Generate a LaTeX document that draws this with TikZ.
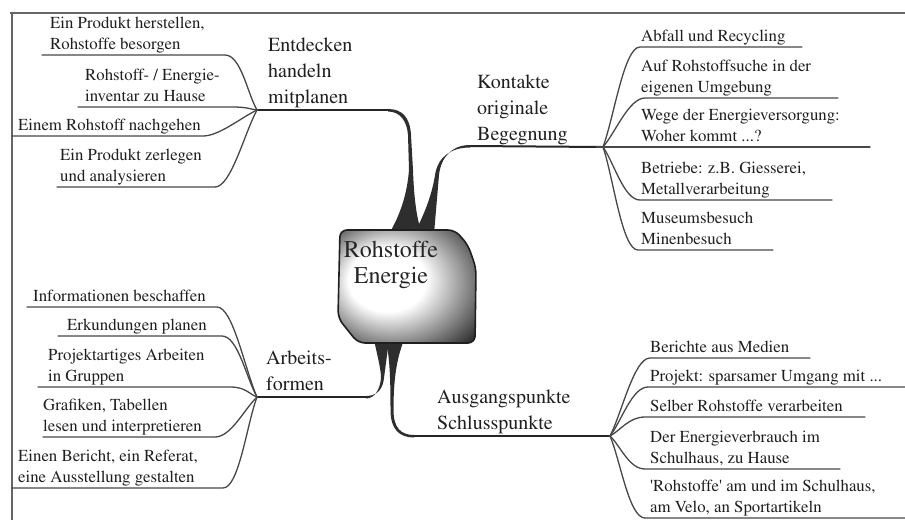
\documentclass[tikz,border=0pt]{standalone}
\usepackage[T1]{fontenc}
\usepackage{mathptmx}
\usetikzlibrary{calc}

\pgfdeclareradialshading{blobglow}{\pgfpoint{-10bp}{4bp}}{color(0bp)=(white); color(14bp)=(white); color(37bp)=(black!85); color(50bp)=(black!88)}

\newcommand\subfont{\fontsize{16.8}{21.5}\selectfont}
\newcommand\topicfont{\fontsize{20}{26}\selectfont}
\newcommand\centerfont{\fontsize{24}{26}\selectfont}

\begin{document}
\begin{tikzpicture}[x=1pt, y=-1pt]

\tikzset{%
subline/.style={line width=1.3pt, black!72, line cap=round},
stemline/.style={line width=2pt, black!85},
stemfill/.style={fill=black!82},
frameline/.style={line width=1.3pt, black!60},
itemtext/.style={font=\subfont, black!88, align=left, inner sep=0, anchor=south west},
topictext/.style={font=\topicfont, black!88, align=left, inner sep=0, anchor=south west}%
}

\useasboundingbox (0,0) rectangle (905,520) ;

% arguments: name, junction, x of text, y of underline, x left end, x of bend, text
\newcommand{\leftitem}[7]{%
\path (#5, #4) node [shape=coordinate] (#1start) {} ;
\path (#6, #4) node [shape=coordinate] (#1bend) {} ;
\node [itemtext] (#1text) at (#3, #4+1.5) {#7\strut} ;
\draw [subline] (#1start) -- (#1bend) .. controls +(16,0) and ($(#2)!0.3!(#1bend)$) .. (#2) ;
}

% arguments: name, junction, x of text, y of underline, x of bend, x right end, text
\newcommand{\rightitem}[7]{%
\path (#5, #4) node [shape=coordinate] (#1bend) {} ;
\path (#6, #4) node [shape=coordinate] (#1end) {} ;
\node [itemtext] (#1text) at (#3, #4+1.5) {#7\strut} ;
\draw [subline] (#2) .. controls ($(#2)!0.3!(#1bend)$) and +(-16,0) .. (#1bend) -- (#1end) ;
}

% frame

\draw [frameline] (10,13) -- (905,13) ;
\draw [frameline] (12,13) -- (12,520) ;

% junctions and stem ends

\path (257, 110) node [shape=coordinate] (entdecken) {} ;
\path (603, 147) node [shape=coordinate] (kontakte) {} ;
\path (257, 397) node [shape=coordinate] (arbeits) {} ;
\path (610, 436) node [shape=coordinate] (ausgang) {} ;

\path (390, 110) node [shape=coordinate] (entdeckenstem) {} ;
\path (470, 146) node [shape=coordinate] (kontaktestem) {} ;
\path (366, 397) node [shape=coordinate] (arbeitsstem) {} ;
\path (412, 436) node [shape=coordinate] (ausgangstem) {} ;

% draw stems

\fill [stemfill] (388,109) .. controls (402,109) and (410,117) .. (411,135) -- (413,170)
	.. controls (414,200) and (417,220) .. (422,234) -- (389,234)
	.. controls (400,215) and (407,195) .. (409,170) -- (408,135)
	.. controls (407,121) and (400,111.5) .. (388,111.5) -- cycle ;

\fill [stemfill] (470,145) .. controls (452,145) and (441,157) .. (439,175) -- (434,234) -- (414,234)
	.. controls (424,215) and (432,195) .. (435,175) .. controls (438,156) and (452,147.5) .. (470,147.5) -- cycle ;

\fill [stemfill] (366,396) .. controls (378,396) and (383,388) .. (384,378) -- (389,340) -- (374,340)
	.. controls (378,358) and (381,370) .. (381,378) .. controls (380,389) and (375,398.5) .. (366,398.5) -- cycle ;

\fill [stemfill] (386,340) -- (404,340) .. controls (396,360) and (393.5,382) .. (393.5,410)
	.. controls (393.5,428) and (401,435) .. (414,435) -- (414,437.5)
	.. controls (400,437.5) and (390.5,430) .. (390.5,410) .. controls (390.5,382) and (390,360) .. (386,340) -- cycle ;

\draw [stemline] (entdecken) -- (entdeckenstem) ;
\draw [stemline] (kontaktestem) -- (kontakte) ;
\draw [stemline] (arbeits) -- (arbeitsstem) ;
\draw [stemline] (ausgangstem) -- (ausgang) ;

% draw centre blob

\shade [shading=blobglow, rounded corners=7pt] (340,230) -- (455,230) -- (468,245) -- (476,268) -- (475,343) -- (358,343) -- (338,318) -- cycle ;
\draw [line width=1.6pt, black!88, rounded corners=7pt] (340,230) -- (455,230) -- (468,245) -- (476,268) -- (475,343) -- (358,343) -- (338,318) -- cycle ;

\node [font=\centerfont, align=center, black!85, inner sep=0] (centre) at (391, 265) {Rohstoffe\\Energie} ;

% main topics

\node [topictext] (entdeckentext) at (268, 111.5) {Entdecken\\handeln\\mitplanen\strut} ;
\node [topictext] (kontaktetext) at (477, 148.5) {Kontakte\\originale\\Begegnung\strut} ;
\node [topictext] (arbeitstext) at (266, 398.5) {Arbeits-\\formen\strut} ;
\node [topictext] (ausgangtext) at (437, 437.5) {Ausgangspunkte\\Schlusspunkte\strut} ;

% items

\leftitem{eA}{entdecken}{50}{55}{42}{225}{Ein Produkt herstellen,\\Rohstoffe besorgen}
\leftitem{eB}{entdecken}{85}{107}{78}{232}{Rohstoff- / Energie-\\inventar zu Hause}
\leftitem{eC}{entdecken}{18}{136}{12}{203}{Einem Rohstoff nachgehen}
\leftitem{eD}{entdecken}{60}{187}{57}{215}{Ein Produkt zerlegen\\und analysieren}

\rightitem{kA}{kontakte}{641}{47}{640}{802}{Abfall und Recycling}
\rightitem{kB}{kontakte}{641}{98}{645}{838}{Auf Rohstoffsuche in der\\eigenen Umgebung}
\rightitem{kC}{kontakte}{641}{147}{603}{870}{Wege der Energieversorgung:\\Woher kommt ...?}
\rightitem{kD}{kontakte}{641}{200}{640}{832}{Betriebe: z.B. Giesserei,\\Metallverarbeitung}
\rightitem{kE}{kontakte}{641}{250}{638}{773}{Museumsbesuch\\Minenbesuch}

\leftitem{aA}{arbeits}{33}{307}{27}{217}{Informationen beschaffen}
\leftitem{aB}{arbeits}{67}{336}{58}{222}{Erkundungen planen}
\leftitem{aC}{arbeits}{48}{387}{38}{230}{Projektartiges Arbeiten\\in Gruppen}
\leftitem{aD}{arbeits}{43}{437}{43}{215}{Grafiken, Tabellen\\lesen und interpretieren}
\leftitem{aE}{arbeits}{18}{488}{12}{223}{Einen Bericht, ein Referat,\\eine Ausstellung gestalten}

\rightitem{sA}{ausgang}{650}{358}{650}{810}{Berichte aus Medien}
\rightitem{sB}{ausgang}{650}{387}{648}{905}{Projekt: sparsamer Umgang mit ...}
\rightitem{sC}{ausgang}{650}{417}{645}{865}{Selber Rohstoffe verarbeiten}
\rightitem{sD}{ausgang}{650}{469}{645}{840}{Der Energieverbrauch im\\Schulhaus, zu Hause}
\rightitem{sE}{ausgang}{650}{518}{645}{905}{\textquotesingle Rohstoffe\textquotesingle{} am und im Schulhaus,\\am Velo, an Sportartikeln}

\end{tikzpicture}
\end{document}
